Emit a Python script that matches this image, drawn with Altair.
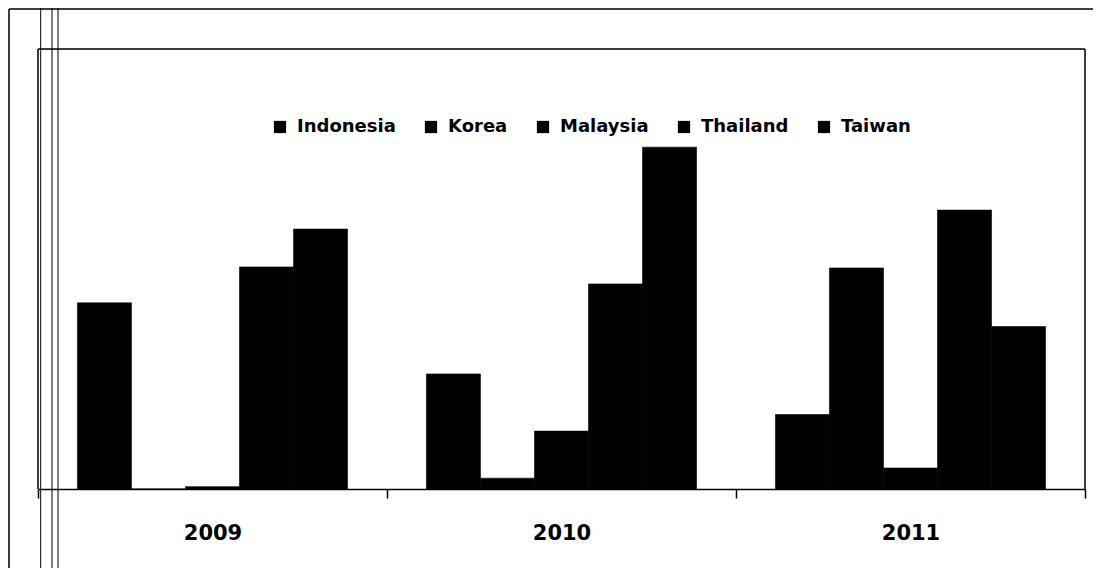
import altair as alt
import pandas as pd

years = ["2009", "2010", "2011"]
countries = ["Indonesia", "Korea", "Malaysia", "Thailand", "Taiwan"]
indonesia = [5.5, 3.4, 2.2]
korea = [0.0, 0.32, 6.53]
malaysia = [0.07, 1.71, 0.62]
thailand = [6.56, 6.06, 8.24]
taiwan = [7.68, 10.1, 4.8]

series = [indonesia, korea, malaysia, thailand, taiwan]
rows = []
for i, yr in enumerate(years):
    for c, vals in zip(countries, series):
        rows.append({"year": yr, "country": c, "value": vals[i]})
df = pd.DataFrame(rows)

W, H = 1047, 440
FONT = "DejaVu Sans"

bars = alt.Chart(df).mark_bar(color="black", stroke="black", strokeWidth=0.6).encode(
    x=alt.X("year:N", sort=years,
            scale=alt.Scale(paddingInner=0, paddingOuter=0),
            axis=alt.Axis(title=None, labelAngle=0, tickBand="extent",
                          domainColor="black", tickColor="black", tickSize=9,
                          domainWidth=1.5, tickWidth=1.5,
                          labelFont=FONT, labelFontWeight="bold", labelFontSize=21,
                          labelColor="black", labelPadding=24, grid=False)),
    xOffset=alt.XOffset("country:N", sort=countries,
                        scale=alt.Scale(paddingInner=0, paddingOuter=0.73)),
    y=alt.Y("value:Q", scale=alt.Scale(domain=[0, 13]), axis=None),
    color=alt.Color("country:N", sort=countries,
                    scale=alt.Scale(domain=countries, range=["black"] * 5),
                    legend=alt.Legend(title=None, orient="none", legendX=233, legendY=69,
                                      direction="horizontal", symbolType="square",
                                      symbolSize=150, symbolStrokeWidth=0,
                                      labelFont=FONT, labelFontWeight="bold",
                                      labelFontSize=18, labelColor="black",
                                      labelOffset=8, columnPadding=26)),
)

def vline(x, y0, y1, w=1.3):
    return alt.Chart(pd.DataFrame({"a": [0]})).mark_rule(color="black", strokeWidth=w).encode(
        x=alt.value(x), y=alt.value(y0), y2=alt.value(y1))

def hline(y, x0, x1, w=1.3):
    return alt.Chart(pd.DataFrame({"a": [0]})).mark_rule(color="black", strokeWidth=w).encode(
        y=alt.value(y), x=alt.value(x0), x2=alt.value(x1))

frames = [
    vline(-29, -40, 520, 1.5),
    hline(-40, -29, 1055, 1.5),
    vline(2.7, -41, 520, 1.0),
    vline(14, -41, 520, 1.0),
    vline(20, -41, 520, 1.0),
    hline(0, 0, W, 1.5),
    vline(0, 0, H, 1.5),
    vline(W, 0, H, 1.5),
]

chart = alt.layer(bars, *frames).properties(
    width=W, height=H,
    autosize=alt.AutoSizeParams(type="none"),
    padding={"left": 30, "top": 41, "right": 8, "bottom": 79},
).configure_view(stroke=None).configure(background="white")

chart.save("out.html", embed_options={"renderer": "svg", "actions": False})
